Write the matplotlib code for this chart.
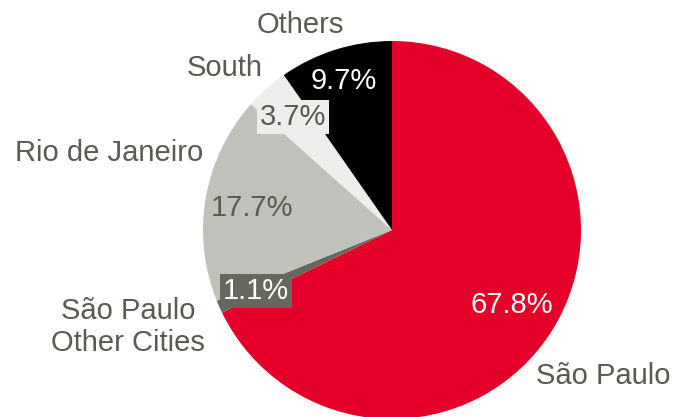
import matplotlib.pyplot as plt

plt.rcParams['font.family'] = ['Liberation Sans', 'DejaVu Sans']

regions = ["São Paulo", "São Paulo\nOther Cities", "Rio de Janeiro", "South", "Others"]
shares = [67.8, 1.1, 17.7, 3.7, 9.7]
colors = ["#E40028", "#67675F", "#C1C1BC", "#EDEDEB", "#000000"]

txt = "#5A5A52"
W, H = 679, 417

fig = plt.figure(figsize=(W / 100, H / 100), dpi=100)
ax = fig.add_axes([0, 0, 1, 1])

# pie in pixel coordinates (y measured from the bottom)
ax.pie(shares, colors=colors, startangle=90, counterclock=False,
       center=(392, H - 230), radius=189, frame=True,
       wedgeprops=dict(linewidth=0))
ax.set_xlim(0, W)
ax.set_ylim(0, H)
ax.axis('off')

fs = 21

# category labels outside the pie
label_pos = [(603, 376), (128, 327), (109, 153), (225, 68), (300, 25)]
for name, (x, y) in zip(regions, label_pos):
    ax.text(x, H - y, name, ha='center', va='center', fontsize=fs,
            color=txt, linespacing=1.2)

# percentage labels
pct_pos = [(512, 305), (256, 291), (252, 208), (293, 117), (344, 81)]
pct_color = ["white", "white", txt, txt, "white"]
pct_box = [None, "#67675F", None, "#EDEDEB", None]
for v, (x, y), c, b in zip(shares, pct_pos, pct_color, pct_box):
    kw = {}
    if b:
        kw['bbox'] = dict(boxstyle='square,pad=0.1', fc=b, ec='none')
    ax.text(x, H - y, f"{v:.1f}%", ha='center', va='center', fontsize=fs,
            color=c, **kw)

fig.savefig("out.png", dpi=100)
